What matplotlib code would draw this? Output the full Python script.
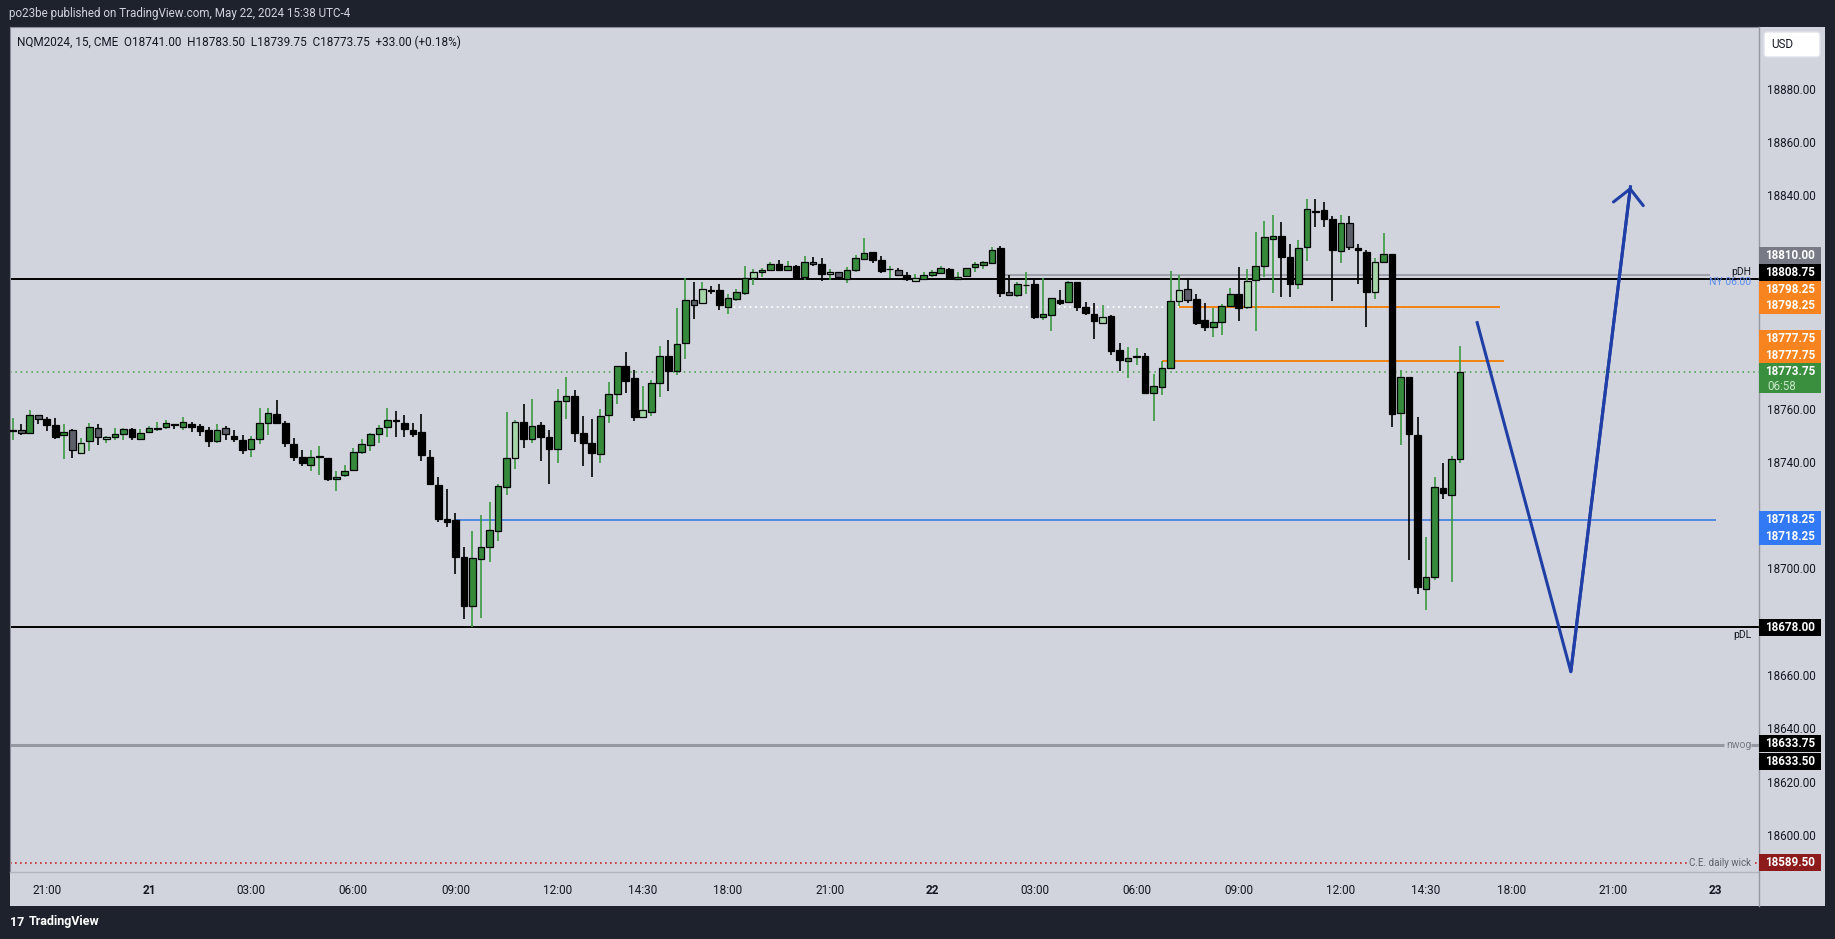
import matplotlib
matplotlib.use('Agg')

import matplotlib.pyplot as plt
from matplotlib.patches import Rectangle, FancyBboxPatch
from matplotlib.lines import Line2D
from matplotlib.transforms import IdentityTransform, blended_transform_factory
import numpy as np

plt.rcParams['font.family'] = ['Roboto', 'DejaVu Sans']

# 15 minute NQM2024 bars, 20:00 May 20 -> 15:30 May 22 (17:00-18:00 break skipped)
opens = [18751.75, 18752.0, 18751.0, 18757.5, 18756.0, 18753.75, 18750.0, 18752.0, 18743.5, 18747.75,
         18752.75, 18748.75, 18749.25, 18750.5, 18752.25, 18748.75, 18751.25, 18752.5, 18753.0, 18754.25,
         18753.25, 18754.25, 18753.5, 18752.0, 18748.0, 18752.75, 18749.75, 18748.25, 18745.0, 18748.5,
         18754.75, 18758.0, 18754.5, 18746.75, 18742.0, 18739.0, 18741.75, 18741.5, 18733.5, 18735.0,
         18737.0, 18743.75, 18746.25, 18750.5, 18753.0, 18755.75, 18754.5, 18752.0, 18751.25, 18742.0,
         18731.25, 18718.5, 18718.25, 18704.25, 18686.0, 18703.5, 18708.0, 18714.0, 18730.75, 18741.5,
         18755.0, 18748.75, 18753.75, 18749.5, 18745.0, 18762.75, 18764.75, 18750.75, 18747.0, 18743.0,
         18757.5, 18765.5, 18776.0, 18771.5, 18756.75, 18758.75, 18769.5, 18779.75, 18774.0, 18784.5,
         18800.75, 18799.75, 18804.5, 18804.5, 18798.25, 18801.0, 18803.5, 18809.0, 18811.25, 18812.0,
         18814.25, 18812.0, 18813.5, 18809.25, 18815.0, 18814.25, 18810.5, 18811.25, 18808.5, 18812.0,
         18816.0, 18818.75, 18815.75, 18812.25, 18812.0, 18810.0, 18808.0, 18808.75, 18810.0, 18811.0,
         18812.25, 18808.5, 18809.75, 18813.0, 18814.0, 18814.75, 18820.25, 18803.75, 18802.5, 18806.25,
         18806.75, 18794.5, 18795.25, 18800.75, 18800.0, 18807.5, 18798.0, 18795.5, 18792.25, 18794.75,
         18782.0, 18778.0, 18779.5, 18779.75, 18765.75, 18768.0, 18775.25, 18800.25, 18804.75, 18801.0,
         18793.25, 18790.5, 18792.5, 18798.5, 18803.0, 18798.25, 18808.25, 18813.5, 18823.5, 18824.75,
         18816.75, 18806.75, 18820.5, 18834.25, 18834.5, 18831.0, 18819.0, 18829.5, 18820.25, 18818.75,
         18803.75, 18815.0, 18818.0, 18758.25, 18771.75, 18750.25, 18692.25, 18696.75, 18730.25, 18727.5,
         18741.0]
highs = [18756.5, 18754.25, 18759.5, 18757.5, 18756.75, 18756.5, 18754.25, 18752.5, 18749.0, 18754.5,
         18754.25, 18749.75, 18752.75, 18752.75, 18752.75, 18752.5, 18753.5, 18755.0, 18755.75, 18754.25,
         18756.75, 18755.0, 18754.25, 18753.25, 18754.25, 18753.5, 18752.0, 18750.0, 18749.75, 18760.25,
         18760.25, 18763.25, 18755.5, 18749.0, 18744.5, 18744.5, 18746.0, 18741.5, 18736.5, 18738.75,
         18745.25, 18748.75, 18750.75, 18753.75, 18760.25, 18759.25, 18757.5, 18754.5, 18758.0, 18744.5,
         18734.5, 18730.0, 18720.75, 18708.0, 18714.25, 18720.0, 18725.0, 18731.75, 18758.75, 18755.75,
         18761.75, 18763.5, 18755.0, 18752.0, 18767.5, 18772.0, 18767.0, 18757.25, 18756.0, 18760.0,
         18770.0, 18776.0, 18781.25, 18774.5, 18768.5, 18770.75, 18783.5, 18785.75, 18797.75, 18809.0,
         18807.5, 18807.5, 18806.0, 18806.75, 18803.0, 18805.0, 18813.5, 18812.25, 18812.75, 18815.0,
         18815.75, 18815.5, 18814.0, 18817.25, 18817.0, 18816.5, 18812.5, 18811.25, 18813.0, 18817.75,
         18824.0, 18818.75, 18817.25, 18813.5, 18812.75, 18811.25, 18810.5, 18811.25, 18812.0, 18813.5,
         18812.75, 18811.25, 18812.75, 18815.0, 18815.5, 18820.5, 18821.0, 18810.0, 18807.5, 18811.25,
         18808.25, 18809.0, 18801.5, 18804.5, 18807.75, 18807.5, 18800.0, 18799.5, 18798.75, 18795.0,
         18784.75, 18783.25, 18782.75, 18780.75, 18773.0, 18778.0, 18811.75, 18810.0, 18808.75, 18803.0,
         18799.5, 18797.75, 18799.25, 18805.25, 18813.0, 18812.5, 18826.25, 18830.5, 18832.75, 18830.0,
         18821.75, 18823.25, 18838.75, 18838.75, 18837.5, 18832.25, 18832.75, 18832.25, 18821.75, 18819.5,
         18816.5, 18825.75, 18818.0, 18774.5, 18771.75, 18757.0, 18712.0, 18734.5, 18739.5, 18742.25,
         18783.5]
lows = [18748.25, 18750.0, 18750.5, 18754.25, 18751.75, 18748.75, 18741.25, 18741.5, 18743.25, 18744.25,
        18746.25, 18747.25, 18748.25, 18748.25, 18748.25, 18748.25, 18750.75, 18751.75, 18752.5, 18752.5,
        18752.0, 18751.25, 18749.75, 18745.5, 18747.25, 18748.25, 18747.5, 18743.0, 18742.0, 18746.75,
        18750.25, 18754.75, 18745.5, 18740.5, 18738.5, 18736.5, 18735.0, 18733.0, 18729.25, 18734.25,
        18737.0, 18743.0, 18744.25, 18747.0, 18749.25, 18749.25, 18749.25, 18749.25, 18740.5, 18731.5,
        18717.5, 18715.75, 18697.75, 18681.0, 18678.0, 18681.25, 18702.25, 18710.5, 18727.5, 18737.5,
        18745.25, 18747.0, 18740.5, 18731.75, 18739.75, 18756.0, 18747.5, 18738.5, 18734.5, 18739.5,
        18754.75, 18761.75, 18765.75, 18755.5, 18756.75, 18757.25, 18764.25, 18766.75, 18772.5, 18778.5,
        18793.75, 18799.5, 18803.0, 18797.0, 18795.5, 18800.25, 18802.5, 18806.5, 18809.5, 18812.0,
        18812.0, 18812.0, 18808.25, 18808.25, 18813.5, 18807.75, 18808.25, 18809.25, 18807.0, 18811.25,
        18816.0, 18814.5, 18811.0, 18809.0, 18809.75, 18807.75, 18808.0, 18808.5, 18809.5, 18810.5,
        18808.75, 18808.5, 18809.75, 18811.25, 18812.5, 18814.25, 18801.75, 18802.75, 18802.0, 18803.0,
        18793.75, 18793.25, 18789.25, 18798.75, 18799.5, 18796.5, 18795.25, 18786.25, 18792.25, 18780.25,
        18774.0, 18771.5, 18776.5, 18765.75, 18755.25, 18765.25, 18775.25, 18798.5, 18799.5, 18791.25,
        18789.25, 18786.75, 18787.5, 18798.0, 18793.0, 18797.5, 18789.0, 18809.25, 18803.25, 18801.75,
        18801.75, 18804.75, 18815.25, 18828.0, 18828.0, 18800.25, 18814.5, 18819.5, 18806.75, 18790.75,
        18801.0, 18815.0, 18753.0, 18746.25, 18703.25, 18690.5, 18684.5, 18695.5, 18726.25, 18694.75,
        18739.75]
closes = [18752.0, 18750.75, 18757.5, 18756.25, 18754.0, 18749.5, 18751.25, 18744.5, 18747.0, 18753.0,
          18749.5, 18749.5, 18750.5, 18752.25, 18749.25, 18751.0, 18752.75, 18752.5, 18754.5, 18753.75,
          18755.0, 18753.0, 18751.75, 18748.0, 18752.0, 18750.5, 18748.75, 18744.5, 18748.5, 18754.5,
          18758.5, 18754.75, 18747.0, 18741.75, 18739.5, 18741.75, 18741.75, 18733.5, 18734.5, 18736.5,
          18743.75, 18746.75, 18750.5, 18752.75, 18755.75, 18755.5, 18752.25, 18750.5, 18742.5, 18731.75,
          18718.75, 18717.5, 18704.25, 18686.0, 18704.0, 18708.0, 18714.5, 18731.0, 18741.5, 18755.0,
          18748.75, 18753.5, 18749.5, 18745.0, 18763.0, 18764.75, 18751.0, 18747.0, 18743.5, 18757.25,
          18765.5, 18776.0, 18770.5, 18757.0, 18759.5, 18769.75, 18779.75, 18774.0, 18784.25, 18800.75,
          18799.0, 18805.0, 18804.25, 18798.75, 18801.5, 18803.75, 18809.0, 18811.25, 18812.0, 18814.25,
          18812.0, 18813.5, 18809.0, 18815.0, 18814.25, 18810.5, 18811.25, 18809.25, 18812.0, 18816.5,
          18818.25, 18815.75, 18811.75, 18812.5, 18810.0, 18808.5, 18809.0, 18810.0, 18811.25, 18812.75,
          18809.0, 18809.25, 18812.75, 18814.25, 18815.0, 18819.5, 18803.5, 18802.75, 18806.75, 18806.5,
          18794.25, 18795.5, 18801.5, 18799.75, 18807.5, 18798.25, 18796.0, 18792.75, 18794.25, 18781.75,
          18778.25, 18779.0, 18779.75, 18765.75, 18768.5, 18775.25, 18800.25, 18804.5, 18800.75, 18792.25,
          18790.5, 18792.5, 18798.5, 18803.0, 18797.75, 18807.75, 18813.5, 18824.25, 18824.75, 18816.75,
          18806.75, 18820.25, 18834.75, 18833.75, 18831.0, 18819.5, 18829.5, 18820.5, 18819.5, 18803.75,
          18815.0, 18818.0, 18758.0, 18771.75, 18750.5, 18693.0, 18696.75, 18730.5, 18728.25, 18741.0,
          18773.75]
# low-volume bars, painted light green / grey by the indicator
weak_bars = [1, 3, 7, 8, 10, 11, 25, 59, 74, 80, 81, 87, 94, 96, 97, 104, 106, 117,
             128, 137, 138, 145, 157, 160]

tick_pos = [4, 16, 28, 40, 52, 64, 74, 84, 96, 108, 120, 132, 144, 156, 166, 176, 188, 200]
tick_lbl = ['21:00', '21', '03:00', '06:00', '09:00', '12:00', '14:30', '18:00', '21:00',
            '22', '03:00', '06:00', '09:00', '12:00', '14:30', '18:00', '21:00', '23']
# scale labels not hidden behind the price tags
price_ticks = [18600, 18620, 18640, 18660, 18700, 18740, 18760, 18840, 18860, 18880]

pdh = 18808.75
pdl = 18678.00
ny_level = 18810.00
session_open = 18798.25
orange_hi = 18798.25
orange_lo = 18777.75
last_price = 18773.75
blue_level = 18718.25
nwog = 18633.75
nwog2 = 18633.50
ce_wick = 18589.50

# hand drawn projection
path_x = [172.0, 183.0, 190.0]
path_y = [18792.25, 18661.25, 18843.25]

W, H = 1835, 939
BG = '#d1d4dc'
DARK = '#1e222d'
GREEN = '#368a3b'
GREEN_WICK = '#3c9a42'
LIGHT_GREEN = '#a5d6a7'
GREY = '#5d606b'

fig = plt.figure(figsize=(W / 100, H / 100), dpi=100)
fig.patch.set_facecolor(DARK)
fig.add_artist(Rectangle((10, H - 906), 1815, 906 - 27, transform=IdentityTransform(),
                         facecolor=BG, edgecolor='none', zorder=-1))

ax = fig.add_axes([10 / W, 1 - 872 / H, (1759 - 10) / W, (872 - 27) / H])
ax.set_facecolor(BG)
ax.set_xlim(-0.32, 205.1)
ax.set_ylim(18586.1, 18903.2)

x = np.arange(len(opens))
o = np.array(opens); h = np.array(highs); l = np.array(lows); c = np.array(closes)
bull = c >= o
weak = np.isin(x, weak_bars)

face = np.where(bull, np.where(weak, LIGHT_GREEN, GREEN), np.where(weak, GREY, 'black'))
wick = np.where(bull, GREEN_WICK, 'black')

# levels
ax.axhline(pdh, color='black', lw=1.4, zorder=1.5)
ax.hlines(ny_level, 116, 199.3, color='#9598a1', lw=1.2, zorder=1.4)
ax.hlines(session_open, 84, 164, color='white', lw=1.3, linestyles=(0, (1, 2)), zorder=1.4)
ax.hlines(orange_hi, 137, 174.7, color='#f57c00', lw=1.3, zorder=1.5)
ax.hlines(orange_lo, 135, 175.2, color='#f57c00', lw=1.3, zorder=1.5)
ax.axhline(last_price, color='#43a047', lw=1.1, ls=(0, (1, 2.5)), zorder=1.4)
ax.hlines(blue_level, 52, 200.0, color='#3b7de0', lw=1.2, zorder=1.5)
ax.axhline(pdl, color='black', lw=1.4, zorder=1.5)
ax.hlines(nwog, -0.32, 201.0, color='#9598a1', lw=2.2, zorder=1.5)
ax.hlines(nwog, 204.2, 205.1, color='#9598a1', lw=2.2, zorder=1.5)
ax.axhline(ce_wick, color='#c62828', lw=1.2, ls=(0, (1, 2)), zorder=1.5)

# candles
ax.vlines(x, l, h, colors=wick, lw=1.2, zorder=2)
body_h = np.maximum(np.abs(c - o), 0.3)
ax.bar(x, body_h, bottom=np.minimum(o, c), width=0.78, color=face,
       edgecolor='black', linewidth=0.9, zorder=3)

# projection drawing
ax.plot(path_x, path_y, color='#1f3ea6', lw=2.2, zorder=5, solid_joinstyle='miter')
ax.annotate('', xy=(path_x[2], path_y[2]), xytext=(path_x[1], path_y[1]),
            arrowprops=dict(arrowstyle='->,head_length=0.6,head_width=0.6', color='#1f3ea6',
                            lw=2.2, shrinkA=0, shrinkB=0, mutation_scale=18), zorder=5)

# level labels
tr = blended_transform_factory(ax.transAxes, ax.transData)
ax.text(0.9955, ny_level - 0.6, 'NY 06:00', transform=tr, ha='right', va='top',
        fontsize=7.5, color='#5b8def', zorder=6)
ax.text(0.9955, pdh + 0.6, 'pDH', transform=tr, ha='right', va='bottom', fontsize=7.5,
        color='#131722', zorder=6)
ax.text(0.9955, pdl - 1.0, 'pDL', transform=tr, ha='right', va='top', fontsize=7.5,
        color='#131722', zorder=6)
ax.text(0.9955, nwog, 'nwog', transform=tr, ha='right', va='center', fontsize=7.5,
        color='#787b86', zorder=6)
ax.text(0.9955, ce_wick, 'C.E. daily wick', transform=tr, ha='right', va='center', fontsize=7,
        color='#5d606b', zorder=6,
        bbox=dict(facecolor=BG, edgecolor='none', pad=0.5))

# axes styling
for s in ['top', 'left']:
    ax.spines[s].set_color('#8a8d97')
    ax.spines[s].set_linewidth(0.8)
ax.spines['right'].set_visible(False)
ax.spines['bottom'].set_color('#b2b5be')
ax.spines['bottom'].set_linewidth(1)

ax.yaxis.tick_right()
ax.set_yticks(price_ticks)
ax.set_yticklabels([f'{p:.2f}' for p in price_ticks])
ax.tick_params(axis='y', length=0, pad=6, labelsize=8.4, labelcolor='#131722')
ax.set_xticks(tick_pos)
ax.set_xticklabels(tick_lbl)
ax.tick_params(axis='x', length=0, pad=9, labelsize=8.5, labelcolor='#131722')
for t in ax.get_xticklabels():
    if ':' not in t.get_text():
        t.set_fontweight('bold')

fig.add_artist(Line2D([1759, 1759], [H - 27, H - 906], transform=IdentityTransform(),
                      color='#9598a1', lw=1, zorder=2))


def price_box(price, text, color, shift=0, h=17, txtcolor='white', sub=None):
    yc = ax.transData.transform((0, price))[1] + shift
    hh = h if sub is None else 30
    top = yc + 8.5 if sub is not None else yc + hh / 2
    fig.add_artist(Rectangle((1759, top - hh), 62, hh, transform=IdentityTransform(),
                             facecolor=color, edgecolor='none', zorder=3))
    fig.text(1790 / W, yc / H, text, ha='center', va='center', fontsize=8.4,
             fontweight='bold', color=txtcolor, zorder=4)
    if sub is not None:
        fig.text(1767 / W, (yc - 14.5) / H, sub, ha='left', va='center', fontsize=8.4,
                 color='#c8e6c9', zorder=4)


price_box(ny_level, f'{ny_level:.2f}', '#787b86', shift=19.7)
price_box(pdh, f'{pdh:.2f}', 'black', shift=6.5)
price_box(orange_hi, f'{orange_hi:.2f}', '#f7841e', shift=17.5)
price_box(orange_hi, f'{orange_hi:.2f}', '#f7841e', shift=0.8)
price_box(orange_lo, f'{orange_lo:.2f}', '#f7841e', shift=23.1)
price_box(orange_lo, f'{orange_lo:.2f}', '#f7841e', shift=5.7)
price_box(last_price, f'{last_price:.2f}', '#3a8f3e', shift=0, sub='06:58')
price_box(blue_level, f'{blue_level:.2f}', '#3179f5', shift=0)
price_box(blue_level, f'{blue_level:.2f}', '#3179f5', shift=-16.7)
price_box(pdl, f'{pdl:.2f}', 'black')
price_box(nwog, f'{nwog:.2f}', 'black', shift=1.2)
price_box(nwog2, f'{nwog2:.2f}', 'black', shift=-16)
price_box(ce_wick, f'{ce_wick:.2f}', '#8e1b1b')

# USD button
fig.add_artist(FancyBboxPatch((1764, H - 57), 56, 25, boxstyle='round,pad=0,rounding_size=3',
                              transform=IdentityTransform(), facecolor='white',
                              edgecolor='#e0e3eb', zorder=3))
fig.text(1771 / W, 1 - 45 / H, 'USD', ha='left', va='center', fontsize=8.4, color='#131722')

# header / footer
fig.text(9 / W, 1 - 14 / H, 'po23be published on TradingView.com, May 22, 2024 15:38 UTC-4',
         ha='left', va='center', fontsize=8.4, color='#d1d4dc')
fig.text(17 / W, 1 - 42 / H,
         'NQM2024, 15, CME  O18741.00  H18783.50  L18739.75  C18773.75  +33.00 (+0.18%)',
         ha='left', va='center', fontsize=8.5, color='#131722')
fig.text(10 / W, 1 - 922 / H, '17', ha='left', va='center', fontsize=9, fontweight='bold',
         color='white')
fig.text(29 / W, 1 - 922 / H, 'TradingView', ha='left', va='center', fontsize=9,
         fontweight='bold', color='white')

fig.savefig('out.png', dpi=100, facecolor=fig.get_facecolor())
plt.close(fig)
